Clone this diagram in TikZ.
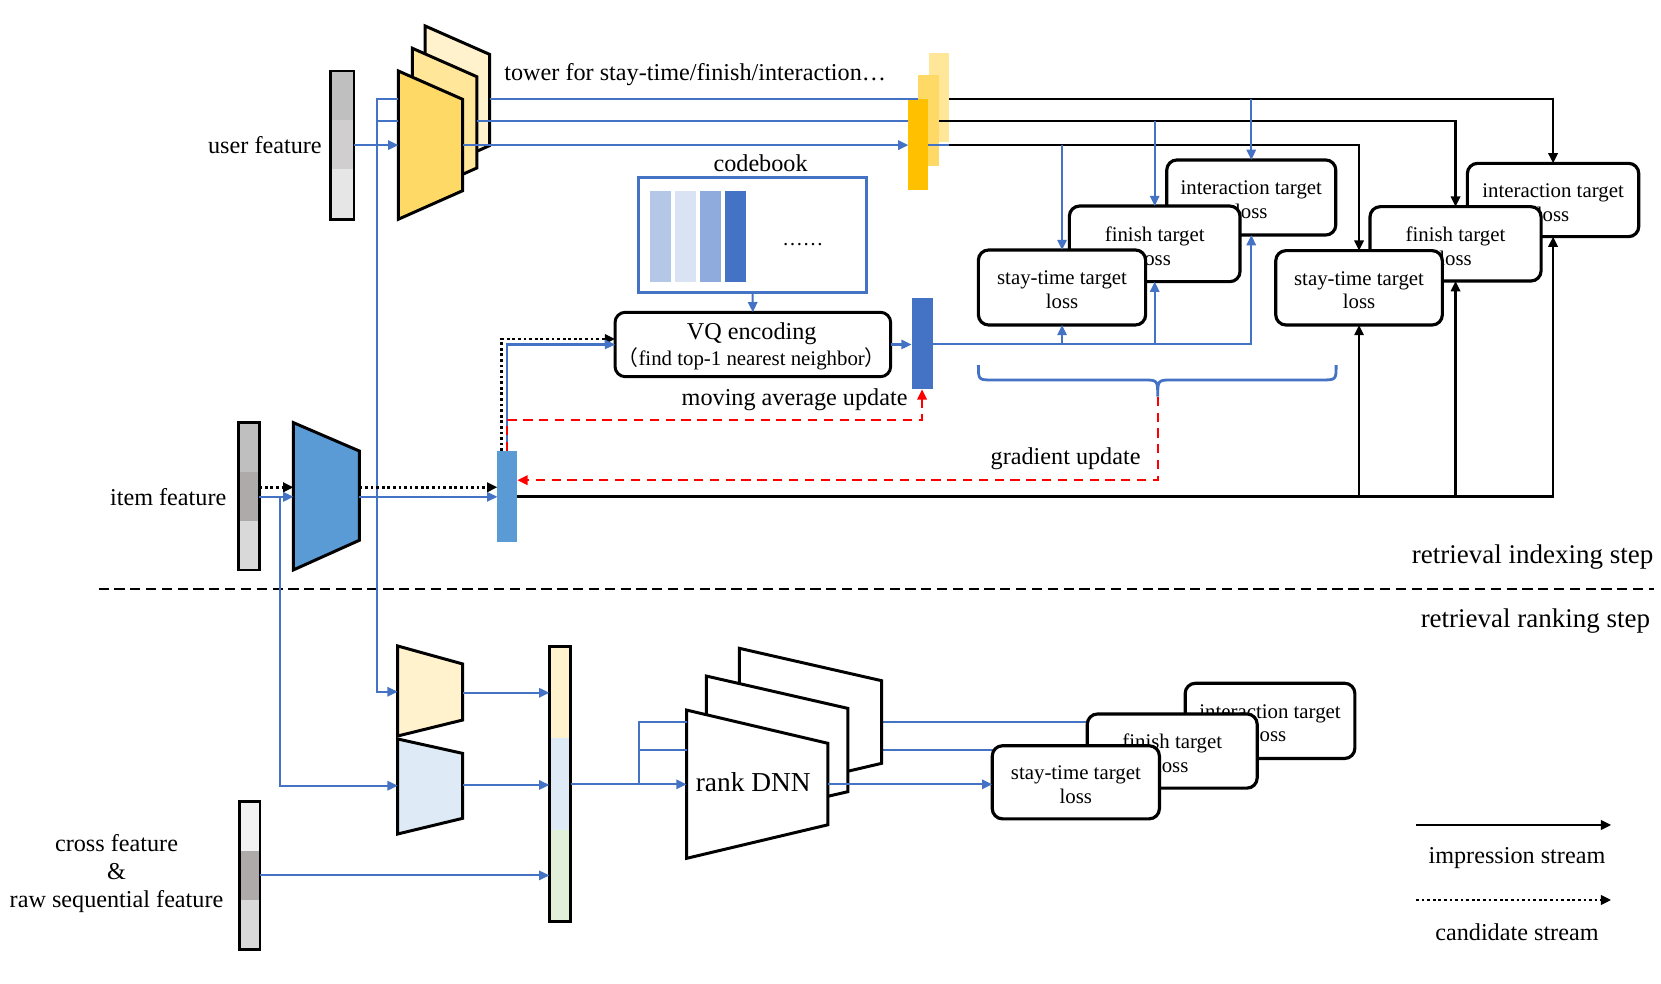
\documentclass[tikz,border=0pt]{standalone}
\usepackage{fontspec}
\setmainfont{Liberation Serif}
\newfontfamily\cjkfont{Noto Sans CJK SC}
\usetikzlibrary{arrows.meta,fit}
\pgfdeclarelayer{bg}
\pgfsetlayers{bg,main}
\definecolor{cblue}{HTML}{4472C4}
\definecolor{cred}{HTML}{FF0000}
\definecolor{ymain}{HTML}{FFD966}
\definecolor{ymid}{HTML}{FFE699}
\definecolor{ylight}{HTML}{FFF2CC}
\definecolor{obar}{HTML}{FFC000}
\definecolor{itemblue}{HTML}{5B9BD5}
\definecolor{lblue}{HTML}{DEEBF7}
\definecolor{lgreen}{HTML}{E2F0D9}
\definecolor{cbA}{HTML}{B4C7E7}
\definecolor{cbB}{HTML}{DAE3F3}
\definecolor{cbC}{HTML}{8FAADC}
\definecolor{ga}{HTML}{BFBFBF}
\definecolor{gb}{HTML}{D0CECE}
\definecolor{gc}{HTML}{E7E6E6}
\definecolor{gd}{HTML}{AEAAAA}
\definecolor{ge}{HTML}{D9D9D9}
\definecolor{gf}{HTML}{F2F2F2}
\begin{document}
\begin{tikzpicture}[x=0.02cm,y=-0.02cm,
  tip/.style={-{Triangle[length=5.5pt,width=5pt]}},
  bl/.style={draw=cblue,line width=1.1pt},
  bk/.style={draw=black,line width=1.3pt},
  dk/.style={draw=black,line width=1.4pt,dash pattern=on 1.5pt off 1.5pt},
  rd/.style={draw=cred,line width=1.3pt,dash pattern=on 5pt off 3.5pt},
  barbox/.style={inner sep=0pt,outer sep=0pt},
  obarbox/.style={barbox,draw,line width=1.5pt},
  lossbox/.style={inner sep=0pt,outer sep=0pt,draw,fill=white,line width=1.7pt,rounded corners=5.5pt},
  boxtext/.style={inner sep=0pt,align=center,font=\fontsize{11.2}{12.8}\selectfont},
  trap/.style={draw,line width=1.6pt,line join=miter},
  lbl/.style={inner sep=0pt,font=\fontsize{13}{15.6}\selectfont},
]
\useasboundingbox (0,0) rectangle (1568,928);
\begin{pgfonlayer}{bg}
\fill[white] (0,0) rectangle (1568,928);
\end{pgfonlayer}

% ================= user towers =================
\fill[ga] (312.2,67) rectangle (334.2,113.3);
\fill[gb] (312.2,113.3) rectangle (334.2,160);
\fill[gc] (312.2,160) rectangle (334.2,207);
\node[obarbox,fit={(312.2,67)(334.2,207)}] (ubar) {};
\node[lbl,anchor=east] (ulab) at (304,137) {user feature};

\draw[trap,fill=ylight] (401.3,24.5) -- (462.1,51.3) -- (462.1,137.5) -- (401.3,164.5) -- cycle;
\draw[trap,fill=ymid] (389.3,45.6) -- (450.1,72.4) -- (450.1,158.6) -- (389.3,185.6) -- cycle;
\draw[trap,fill=ymain] (376,67) -- (436.8,93.8) -- (436.8,180) -- (376,207) -- cycle;
\coordinate (uj1) at (355.6,93.5);
\coordinate (uj2) at (355.6,114);
\coordinate (tfL1) at (376,93.5);
\coordinate (tfL2) at (376,114);
\coordinate (tfL3) at (376,137);
\coordinate (tbR) at (462.1,93.5);
\coordinate (tmR) at (450.1,114);
\coordinate (tfR) at (436.8,137);
\node[lbl,anchor=west] (towerlab) at (475.8,70.8) {tower for stay-time/finish/interaction…};

% output bars
\node[barbox,fill=ymid,fit={(877,50.3)(896.2,134.4)}] (ob3) {};
\node[barbox,fill=ymain,fit={(867,70.8)(886.5,156.4)}] (ob2) {};
\node[barbox,fill=obar,fit={(857.5,93.5)(876.4,179.4)}] (ob1) {};

% codebook
\node[barbox,draw=cblue,line width=1.5pt,fit={(602.6,167.7)(818.2,276.3)}] (cb) {};
\fill[cbA] (613.6,180) rectangle (633.5,266);
\fill[cbB] (637.2,180) rectangle (657,266);
\fill[cbC] (660.8,180) rectangle (680.6,266);
\fill[cblue] (684.4,180) rectangle (704.3,266);
\node[inner sep=0pt,font=\fontsize{11}{13}\selectfont] (cbdots) at (758,231) {……};
\node[lbl] (cblab) at (718,154) {codebook};

% VQ
\node[lossbox,line width=1.6pt,fit={(580.6,294.8)(840.8,355.6)}] (vq) {};
\node[lbl] (vqt1) at (709.6,314.7) {VQ encoding};
\node[inner sep=0pt,font=\fontsize{11.2}{13}\selectfont] (vqt2) at (709.6,338.3) {{\cjkfont （}find top-1 nearest neighbor{\cjkfont ）}};
\node[barbox,fill=cblue,fit={(860.5,281.6)(880.3,367.5)}] (vqbar) {};
\node[lbl,anchor=east] (malab) at (857,377) {moving average update};

% loss boxes (retrieval)
\node[lossbox,fit={(1101.4,151)(1261,221.9)}] (lI) {};
\node[boxtext] (lIt) at ([yshift=-1.3pt]lI.center) {interaction target\\loss};
\node[lossbox,fit={(1009.5,194.5)(1170.6,265.9)}] (lF) {};
\node[boxtext] (lFt) at ([yshift=-1.3pt]lF.center) {finish target\\loss};
\node[lossbox,fit={(923.6,236)(1081.5,306.8)}] (lS) {};
\node[boxtext] (lSt) at ([yshift=-1.3pt]lS.center) {stay-time target\\loss};
\node[lossbox,fit={(1385.2,154.2)(1547,223.4)}] (rI) {};
\node[boxtext] (rIt) at ([yshift=-1.3pt]rI.center) {interaction target\\loss};
\node[lossbox,fit={(1293.3,195.1)(1454.8,265.3)}] (rF) {};
\node[boxtext] (rFt) at ([yshift=-1.3pt]rF.center) {finish target\\loss};
\node[lossbox,fit={(1204.3,236.6)(1361.6,306.8)}] (rS) {};
\node[boxtext] (rSt) at ([yshift=-1.3pt]rS.center) {stay-time target\\loss};

% brace
\draw[cblue,line width=1.5pt] (923.6,344.6) .. controls (923.6,358.7) .. (937,358.7) -- (1079,358.7) .. controls (1092.9,358.7) .. (1092.9,374.5) .. controls (1092.9,358.7) .. (1107,358.7) -- (1247,358.7) .. controls (1261.3,358.7) .. (1261.3,344.6);
\coordinate (brtip) at (1092.9,374.5);
\node[lbl,anchor=east] (gulab) at (1077,432.7) {gradient update};

% ================= item =================
\fill[ga] (225,399) rectangle (244.8,446);
\fill[gd] (225,446) rectangle (244.8,492);
\fill[ge] (225,492) rectangle (244.8,538);
\node[obarbox,fit={(225,399)(244.8,538)}] (ibar) {};
\node[lbl,anchor=east] (ilab) at (214,469.5) {item feature};
\draw[trap,fill=itemblue] (277,399) -- (339.3,425.8) -- (339.3,510) -- (277,538) -- cycle;
\coordinate (iL1) at (277,460);
\coordinate (iL2) at (277,469);
\coordinate (iR1) at (339.3,460);
\coordinate (iR2) at (339.3,469);
\coordinate (ij) at (264.4,469);
\node[barbox,fill=itemblue,fit={(469.5,425.8)(488.4,512)}] (emb) {};
\coordinate (eT1) at (473.6,425.8);
\coordinate (eT2) at (478.4,425.8);
\coordinate (vqin1) at (580.6,320);
\coordinate (gy) at (0,453.3);

% separator
\draw[black,line width=1.3pt,dash pattern=on 5.5pt off 3pt] (93,556) -- (1561,556);
\node[inner sep=0pt,anchor=east,font=\fontsize{14.5}{17}\selectfont] (stepA) at (1561,526) {retrieval indexing step};
\node[inner sep=0pt,anchor=east,font=\fontsize{14.5}{17}\selectfont] (stepB) at (1558,586) {retrieval ranking step};

% ================= ranking =================
\draw[trap,fill=ylight] (375.4,609.8) -- (436.8,626.8) -- (436.8,679.7) -- (375.4,694.8) -- cycle;
\draw[trap,fill=lblue] (375.4,697.6) -- (436.8,711.2) -- (436.8,772.5) -- (375.4,787.3) -- cycle;
\coordinate (syL) at (375.4,653);
\coordinate (syR) at (436.8,654);
\coordinate (sbL) at (375.4,741.7);
\coordinate (sbR) at (436.8,741);

\fill[ylight] (518.6,610.5) rectangle (538.7,697);
\fill[lblue] (518.6,697) rectangle (538.7,783.6);
\fill[lgreen] (518.6,783.6) rectangle (538.7,870);
\node[obarbox,fit={(518.6,610.5)(538.7,870)}] (cbar) {};

\fill[gf] (226,756.8) rectangle (245.5,803);
\fill[gd] (226,803) rectangle (245.5,849.6);
\fill[ge] (226,849.6) rectangle (245.5,896);
\node[obarbox,fit={(226,756.8)(245.5,896)}] (xbar) {};
\node[lbl,align=center,font=\fontsize{13}{15.1}\selectfont] (xlab) at (110,824.5) {cross feature\\\&\\raw sequential feature};

\draw[trap,fill=white] (697.9,612) -- (832.3,642.6) -- (832.3,720.6) -- (697.9,752) -- cycle;
\draw[trap,fill=white] (666.8,638.2) -- (800.3,668.7) -- (800.3,747.4) -- (666.8,778) -- cycle;
\draw[trap,fill=white] (648.1,670.3) -- (781.6,701.7) -- (781.6,778.6) -- (648.1,810.3) -- cycle;
\node[inner sep=0pt,font=\fontsize{14.7}{17}\selectfont] (rklab) at (711,738) {rank DNN};
\coordinate (rkL1) at (648.1,681.6);
\coordinate (rkL2) at (648.1,708);
\coordinate (rkL3) at (648.1,740.4);
\coordinate (rj) at (603,740.4);
\coordinate (rbR) at (832.3,681.6);
\coordinate (rmR) at (800.3,708);
\coordinate (rfR) at (781.6,740.4);

\node[lossbox,fit={(1118.8,645)(1279,716)}] (bI) {};
\node[boxtext] (bIt) at ([yshift=-1.3pt]bI.center) {interaction target\\loss};
\node[lossbox,fit={(1026.4,674)(1186.8,744)}] (bF) {};
\node[boxtext] (bFt) at ([yshift=-1.3pt]bF.center) {finish target\\loss};
\node[lossbox,fit={(936.7,704)(1094.5,773)}] (bS) {};
\node[boxtext] (bSt) at ([yshift=-1.3pt]bS.center) {stay-time target\\loss};

% legend
\coordinate (lg1) at (1336.7,778.8);
\coordinate (lg2) at (1521,778.8);
\coordinate (lg3) at (1336.7,849.6);
\coordinate (lg4) at (1521,849.6);
\node[lbl] (imlab) at (1432,810) {impression stream};
\node[lbl] (calab) at (1432,880) {candidate stream};

% ================= connectors =================
\draw[bl,tip] (tfL1) -- (uj1) -- (syL -| uj1) -- (syL);
\draw[bl] (uj2) -- (tfL2);
\draw[bl,tip] (ubar.east) -- (tfL3);
\draw[bl] (tbR) -- (ob2.west |- tbR);
\draw[bl] (tmR) -- (ob1.west |- tmR);
\draw[bl,tip] (tfR) -- (ob1.west |- tfR);
\draw[bl] (ob1.east |- tfR) -- (ob3.east |- tfR);
\draw[bk,tip] (ob3.east |- tbR) -| (rI.north);
\draw[bk,tip] (ob2.east |- tmR) -| (rF.north);
\draw[bk,tip] (ob3.east |- tfR) -| (rS.north);
\draw[bl,tip] (lI.north |- tbR) -- (lI.north);
\draw[bl,tip] (lF.north |- tmR) -- (lF.north);
\draw[bl,tip] (lS.north |- tfR) -- (lS.north);

\draw[bl,tip] (cb.south) -- (vq.north);
\draw[bl,tip] (vq.east) -- (vqbar.west |- vq.east);
\draw[bl,tip] (vqbar.east) -| (lI.south);
\draw[bl,tip] (lS.south |- vqbar.east) -- (lS.south);
\draw[bl,tip] (lF.south |- vqbar.east) -- (lF.south);

\draw[dk,tip] (ibar.east |- iL1) -- (iL1);
\draw[bl,tip] (ibar.east |- iL2) -- (iL2);
\draw[bl,tip] (ij) |- (sbL);
\draw[dk,tip] (iR1) -- (emb.west |- iR1);
\draw[bl,tip] (iR2) -- (emb.west |- iR2);
\draw[dk,tip] (eT1) |- (vqin1);
\draw[bl,tip] (eT2) |- (vq.west);
\draw[rd,tip] (eT2) -- ++(0,-29.3) -| (vqbar.south);
\draw[rd,tip] (brtip) |- (emb.east |- gy);
\draw[bk,tip] (emb.east) -| (rI.south);
\draw[bk,tip] (rS.south |- emb.east) -- (rS.south);
\draw[bk,tip] (rF.south |- emb.east) -- (rF.south);

\draw[bl,tip] (syR) -- (cbar.west |- syR);
\draw[bl,tip] (sbR) -- (cbar.west |- sbR);
\draw[bl,tip] (xbar.east) -- (cbar.west |- xbar.east);
\draw[bl,tip] (cbar.east |- rkL3) -- (rkL3);
\draw[bl] (rj) |- (rkL1);
\draw[bl] (rj |- rkL2) -- (rkL2);
\begin{pgfonlayer}{bg}
\draw[bl] (rbR) -- (bI.west |- rbR);
\draw[bl] (rmR) -- (bF.west |- rmR);
\end{pgfonlayer}
\draw[bl,tip] (rfR) -- (bS.west |- rfR);

\draw[bk,tip] (lg1) -- (lg2);
\draw[dk,tip] (lg3) -- (lg4);
\end{tikzpicture}
\end{document}
